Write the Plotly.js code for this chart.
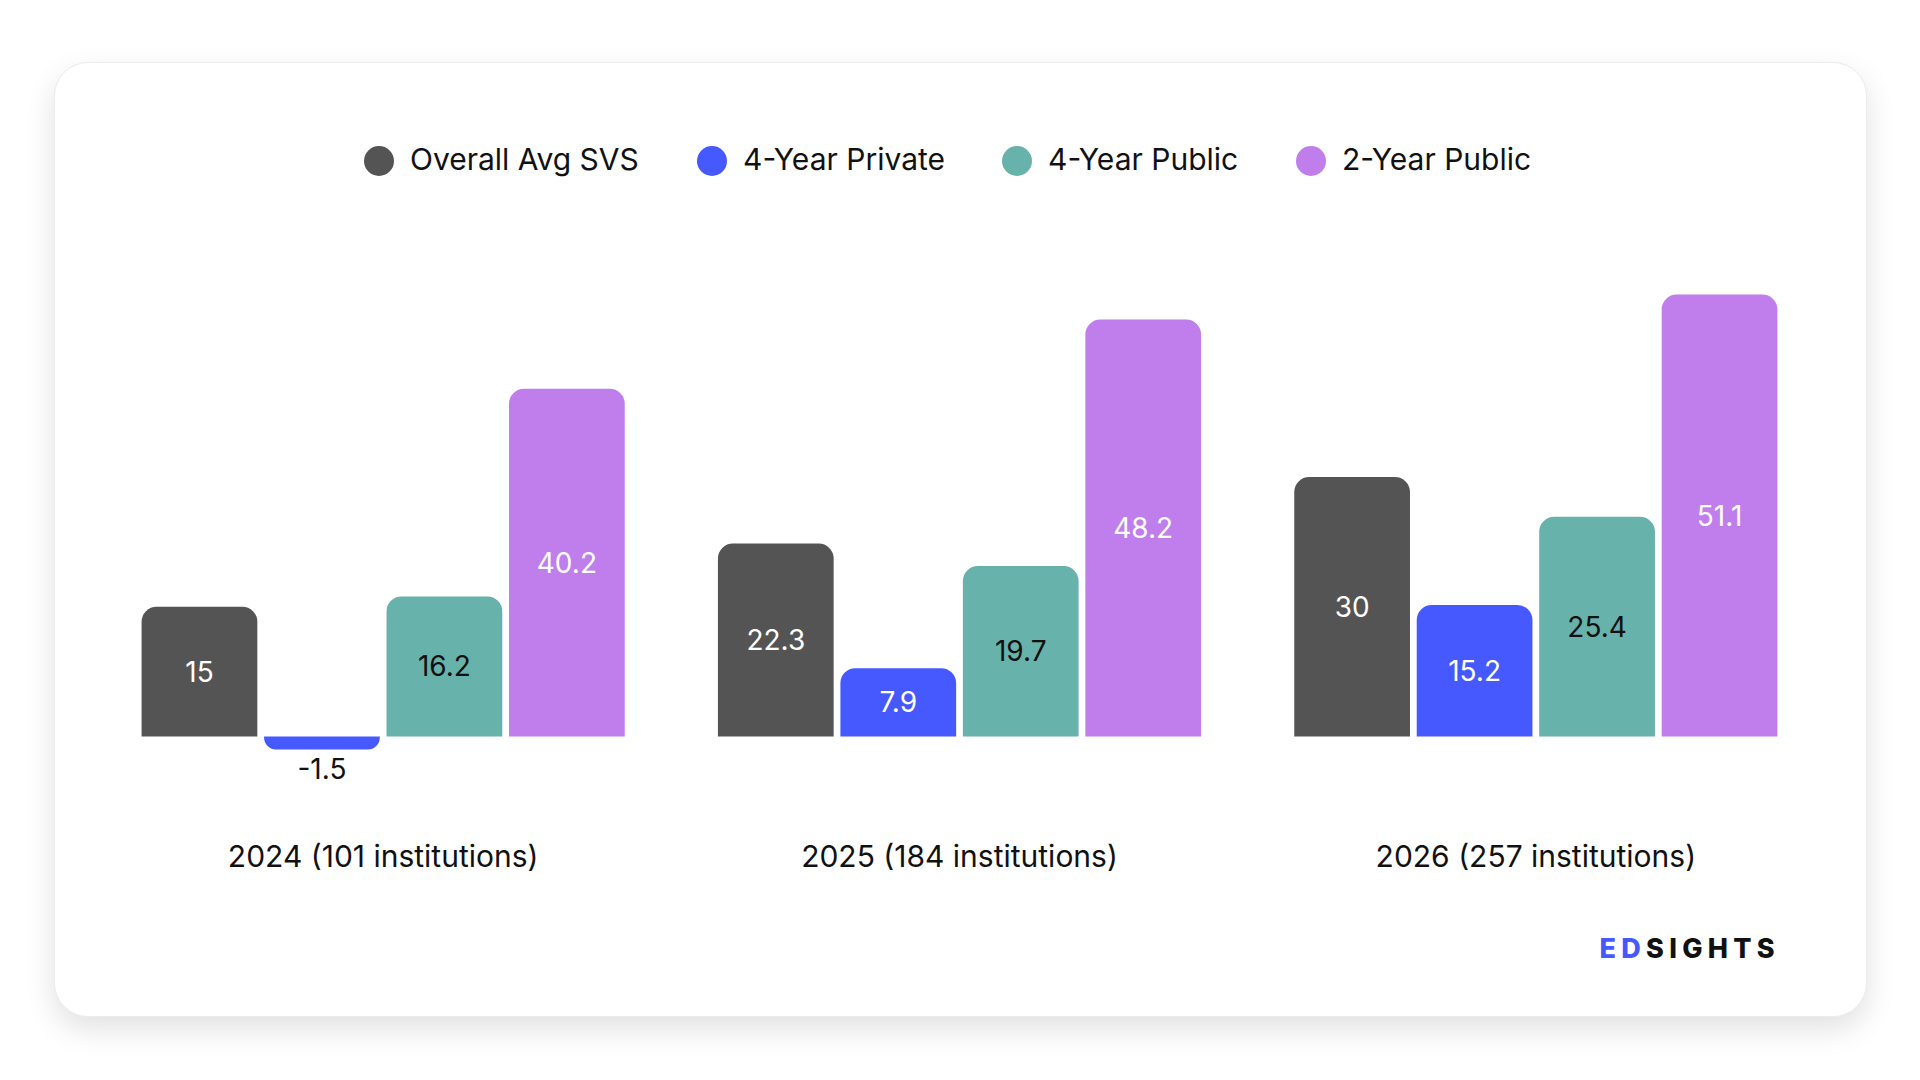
<!DOCTYPE html>
<html>
<head>
<meta charset="utf-8">
<script src="https://cdn.plot.ly/plotly-3.0.1.min.js"></script>
<style>
  html, body { margin: 0; padding: 0; background: #ffffff; }
  #page { position: relative; width: 1920px; height: 1080px; overflow: hidden; background: #ffffff; }
  #card {
    position: absolute; left: 54px; top: 62px; width: 1811px; height: 953px;
    background: #ffffff; border: 1px solid #ececec; border-radius: 34px;
    box-shadow: 0 12px 30px rgba(0, 0, 0, 0.12);
  }
  #chart { position: absolute; left: 0; top: 0; width: 1920px; height: 1080px; }
  #logo {
    position: absolute; right: 140px; top: 934px;
    font-family: Inter, "Noto Sans", sans-serif; font-weight: 800; font-size: 27px;
    letter-spacing: 5.3px; color: #111111; line-height: 30px;
  }
  #logo span { color: #4659ff; }
</style>
</head>
<body>
<div id="page">
  <div id="card"></div>
  <div id="chart"></div>
  <div id="logo"><span>ED</span>SIGHTS</div>
</div>
<script>
// values
const categories = ['2024 (101 institutions)', '2025 (184 institutions)', '2026 (257 institutions)'];
const overallAvgSvs = [15, 22.3, 30];
const fourYearPrivate = [-1.5, 7.9, 15.2];
const fourYearPublic = [16.2, 19.7, 25.4];
const twoYearPublic = [40.2, 48.2, 51.1];

const seriesNames = ['Overall Avg SVS', '4-Year Private', '4-Year Public', '2-Year Public'];
const seriesValues = [overallAvgSvs, fourYearPrivate, fourYearPublic, twoYearPublic];
const seriesColors = ['#545454', '#4659ff', '#67b2aa', '#bf7eec'];
const insideLabelColors = ['#ffffff', '#ffffff', '#111111', '#ffffff'];

const FONT = 'Inter, "Noto Sans", sans-serif';

// plot area in page pixels (used to place the hand-made legend)
const M = { l: 95, r: 96, t: 221, b: 257 };
const W = 1920, H = 1080;
const pxX = px => (px - M.l) / (W - M.l - M.r);
const pxY = py => (H - M.b - py) / (H - M.t - M.b);

const traces = seriesNames.map((name, i) => ({
    type: 'bar',
    name,
    x: categories,
    y: seriesValues[i],
    text: seriesValues[i].map(v => String(v)),
    textposition: 'auto',
    insidetextanchor: 'middle',
    insidetextfont: { family: FONT, size: 28, color: insideLabelColors[i] },
    outsidetextfont: { family: FONT, size: 28, color: '#111111' },
    marker: { color: seriesColors[i], line: { width: 0 } },
    cliponaxis: false,
    hoverinfo: 'skip',
    showlegend: false,
}));

// legend: round dots + labels (plotly's own legend caps marker size at 16px)
const legendDotX = [379, 712, 1017, 1311];
const legendY = 161;
const shapes = seriesNames.map((n, i) => ({
    type: 'circle', xref: 'paper', yref: 'paper',
    xsizemode: 'pixel', ysizemode: 'pixel',
    xanchor: pxX(legendDotX[i]), yanchor: pxY(legendY),
    x0: -15, x1: 15, y0: -15, y1: 15,
    fillcolor: seriesColors[i], line: { width: 0 },
}));
const annotations = seriesNames.map((n, i) => ({
    xref: 'paper', yref: 'paper',
    x: pxX(legendDotX[i] + 28.5), y: pxY(legendY - 2),
    xanchor: 'left', yanchor: 'middle',
    text: n, showarrow: false,
    font: { family: FONT, size: 30, color: '#111111' },
}));

const layout = {
    width: W, height: H,
    margin: M,
    paper_bgcolor: 'rgba(0,0,0,0)',
    plot_bgcolor: 'rgba(0,0,0,0)',
    font: { family: FONT, color: '#111111' },
    barmode: 'group',
    bargap: 0.15,
    bargroupgap: 0.055,
    barcornerradius: 15,
    showlegend: false,
    xaxis: {
        type: 'category',
        showgrid: false, zeroline: false, showline: false, ticks: '',
        tickfont: { family: FONT, size: 30, color: '#111111' },
        ticklabelstandoff: 13,
        fixedrange: true,
    },
    yaxis: {
        range: [-10, 59.6],
        visible: false,
        showgrid: false, zeroline: false,
        fixedrange: true,
    },
    shapes,
    annotations,
};

Plotly.newPlot('chart', traces, layout, { displayModeBar: false, staticPlot: true });
</script>
</body>
</html>
